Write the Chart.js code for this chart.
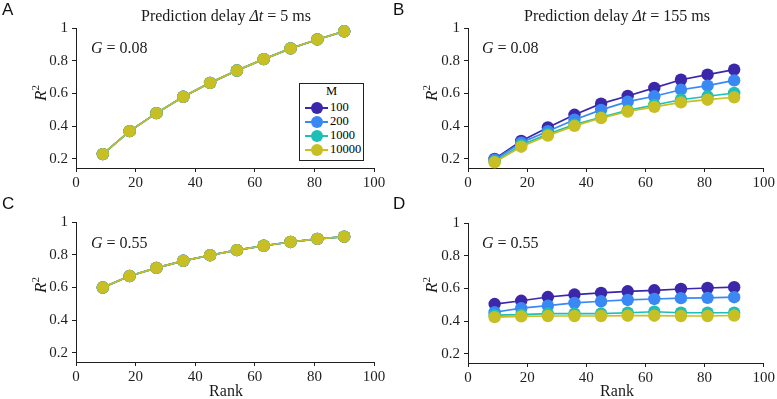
<!DOCTYPE html>
<html>
<head>
<meta charset="utf-8">
<script src="https://cdn.jsdelivr.net/npm/chart.js@4.4.1/dist/chart.umd.min.js"></script>
<style>
  html, body { margin: 0; padding: 0; background: #fff; }
  #wrap { position: relative; width: 777px; height: 399px; overflow: hidden; background: #fff; }
  canvas { position: absolute; }
  .t { position: absolute; font-family: "Liberation Serif", "DejaVu Serif", serif; color: #1a1a1a; white-space: nowrap; font-weight: 400; }
  .letter { position: absolute; font-family: "Liberation Sans", Arial, sans-serif; font-size: 17px; color: #111; }
  .ylab { position: absolute; font-family: "Liberation Serif", serif; font-size: 17px; color: #1a1a1a; transform: translate(-50%, -50%) rotate(-90deg); white-space: nowrap; }
  .legend { position: absolute; left: 299px; top: 83px; width: 63px; height: 76px; border: 1px solid #222; background: #fff; font-family: "Liberation Serif", serif; font-size: 12.5px; font-weight: 400; color: #000; }
  .legend .row { position: absolute; left: 0; height: 14px; width: 63px; }
  .legend .ln { position: absolute; left: 5px; top: 6px; width: 23px; height: 1.6px; }
  .legend .dot { position: absolute; left: 11px; top: 1px; width: 12px; height: 12px; border-radius: 50%; }
  .legend .lt { position: absolute; left: 30px; top: -1px; font-weight: 400; color: #000; }
</style>
</head>
<body>
<div id="wrap">
  <canvas id="cA"></canvas>
  <canvas id="cB"></canvas>
  <canvas id="cC"></canvas>
  <canvas id="cD"></canvas>
</div>
<script>
// ---------- data ----------
const ranks = [9, 18, 27, 36, 45, 54, 63, 72, 81, 90];
const seriesNames = ['100', '200', '1000', '10000'];
const seriesColors = ['#3b27a9', '#3a88f3', '#1dbfb7', '#c7bf24'];
const yTicks = [0.2, 0.4, 0.6, 0.8, 1];
const xTicks = [0, 20, 40, 60, 80, 100];

// Panel A: delay 5 ms, G = 0.08
const A_M100   = [0.23, 0.37, 0.48, 0.58, 0.665, 0.74, 0.81, 0.875, 0.93, 0.98];
const A_M200   = [0.23, 0.37, 0.48, 0.58, 0.665, 0.74, 0.81, 0.875, 0.93, 0.98];
const A_M1000  = [0.23, 0.37, 0.48, 0.58, 0.665, 0.74, 0.81, 0.875, 0.93, 0.98];
const A_M10000 = [0.23, 0.37, 0.48, 0.58, 0.665, 0.74, 0.81, 0.875, 0.93, 0.98];

// Panel B: delay 155 ms, G = 0.08
const B_M100   = [0.20, 0.31, 0.393, 0.47, 0.538, 0.585, 0.634, 0.684, 0.715, 0.746];
const B_M200   = [0.195, 0.30, 0.37, 0.44, 0.50, 0.55, 0.583, 0.623, 0.648, 0.68];
const B_M1000  = [0.185, 0.285, 0.352, 0.41, 0.455, 0.497, 0.53, 0.562, 0.583, 0.603];
const B_M10000 = [0.18, 0.275, 0.343, 0.402, 0.45, 0.49, 0.518, 0.546, 0.562, 0.577];

// Panel C: delay 5 ms, G = 0.55
const C_M100   = [0.60, 0.67, 0.72, 0.763, 0.797, 0.828, 0.855, 0.878, 0.897, 0.91];
const C_M200   = [0.60, 0.67, 0.72, 0.763, 0.797, 0.828, 0.855, 0.878, 0.897, 0.91];
const C_M1000  = [0.60, 0.67, 0.72, 0.763, 0.797, 0.828, 0.855, 0.878, 0.897, 0.91];
const C_M10000 = [0.60, 0.67, 0.72, 0.763, 0.797, 0.828, 0.855, 0.878, 0.897, 0.91];

// Panel D: delay 155 ms, G = 0.55
const D_M100   = [0.505, 0.525, 0.548, 0.563, 0.573, 0.583, 0.589, 0.597, 0.603, 0.608];
const D_M200   = [0.455, 0.48, 0.495, 0.512, 0.522, 0.53, 0.536, 0.541, 0.543, 0.547];
const D_M1000  = [0.437, 0.44, 0.447, 0.447, 0.447, 0.452, 0.458, 0.452, 0.452, 0.452];
const D_M10000 = [0.425, 0.43, 0.432, 0.432, 0.432, 0.434, 0.434, 0.432, 0.432, 0.435];

const panelTitles = ['Prediction delay <i>Δt</i> = 5 ms', 'Prediction delay <i>Δt</i> = 155 ms'];
const gLabels = ['0.08', '0.08', '0.55', '0.55'];
const panelLetters = ['A', 'B', 'C', 'D'];

// ---------- layout ----------
const panels = [
  { id: 'cA', data: [A_M100, A_M200, A_M1000, A_M10000], left: 0,   top: 0,   w: 388, h: 196, area: { l: 76, r: 374, t: 28, b: 168 } },
  { id: 'cB', data: [B_M100, B_M200, B_M1000, B_M10000], left: 390, top: 0,   w: 387, h: 196, area: { l: 468, r: 766, t: 28, b: 168 } },
  { id: 'cC', data: [C_M100, C_M200, C_M1000, C_M10000], left: 0,   top: 196, w: 388, h: 203, area: { l: 76, r: 374, t: 222, b: 362 } },
  { id: 'cD', data: [D_M100, D_M200, D_M1000, D_M10000], left: 390, top: 196, w: 387, h: 203, area: { l: 468, r: 766, t: 223, b: 363 } }
];

const FONT = '"Liberation Serif", "DejaVu Serif", serif';
const INK = '#1f1f1f';

panels.forEach((p, pi) => {
  const cv = document.getElementById(p.id);
  cv.style.left = p.left + 'px';
  cv.style.top = p.top + 'px';
  cv.style.width = p.w + 'px';
  cv.style.height = p.h + 'px';
  cv.width = p.w; cv.height = p.h;

  const yAxisW = p.area.l - p.left;
  const padRight = (p.left + p.w) - p.area.r;
  const padTop = p.area.t - p.top;
  const xAxisH = (p.top + p.h) - p.area.b;

  const datasets = seriesNames.map((name, si) => ({
    label: name,
    data: ranks.map((r, k) => ({ x: r, y: p.data[si][k] })),
    borderColor: seriesColors[si],
    backgroundColor: seriesColors[si],
    pointBackgroundColor: seriesColors[si],
    pointBorderWidth: 0,
    pointRadius: 6.2,
    borderWidth: 1.7,
    tension: 0,
    clip: false,
    order: 4 - si
  }));

  new Chart(cv, {
    type: 'line',
    data: { datasets },
    options: {
      responsive: false,
      animation: false,
      devicePixelRatio: 1,
      layout: { padding: { left: 0, right: padRight, top: padTop, bottom: 0 } },
      plugins: { legend: { display: false }, tooltip: { enabled: false } },
      scales: {
        x: {
          type: 'linear', min: 0, max: 100,
          afterFit: s => { s.height = xAxisH; },
          afterBuildTicks: s => { s.ticks = xTicks.map(v => ({ value: v })); },
          grid: { drawOnChartArea: false, drawTicks: true, tickLength: 4, color: INK, lineWidth: 1 },
          border: { display: true, color: INK, width: 1 },
          ticks: { color: INK, font: { family: FONT, size: 15 }, padding: 2, maxRotation: 0 }
        },
        y: {
          type: 'linear', min: 0.145, max: 1,
          afterFit: s => { s.width = yAxisW; },
          afterBuildTicks: s => { s.ticks = yTicks.map(v => ({ value: v })); },
          grid: { drawOnChartArea: false, drawTicks: true, tickLength: 4, color: INK, lineWidth: 1 },
          border: { display: true, color: INK, width: 1 },
          ticks: { color: INK, font: { family: FONT, size: 15 }, padding: 4,
                   callback: v => (v === 1 ? '1' : v.toFixed(1)) }
        }
      }
    }
  });
});

// ---------- text overlays ----------
const wrap = document.getElementById('wrap');
function addDiv(cls, html, style) {
  const d = document.createElement('div');
  d.className = cls;
  d.innerHTML = html;
  Object.assign(d.style, style);
  wrap.appendChild(d);
  return d;
}

// panel titles
[{ cx: 226, cy: 16 }, { cx: 617, cy: 16 }].forEach((pos, i) => {
  addDiv('t', panelTitles[i], { left: pos.cx + 'px', top: pos.cy + 'px', fontSize: '16px', transform: 'translate(-50%,-50%)' });
});

// panel letters
[{ x: 2, y: 0 }, { x: 393, y: 0 }, { x: 2, y: 194 }, { x: 393, y: 194 }].forEach((pos, i) => {
  addDiv('letter', panelLetters[i], { left: pos.x + 'px', top: pos.y + 'px' });
});

// G labels
[{ x: 91, cy: 48 }, { x: 482, cy: 48 }, { x: 91, cy: 243 }, { x: 482, cy: 243 }].forEach((pos, i) => {
  addDiv('t', '<i>G</i> = ' + gLabels[i], { left: pos.x + 'px', top: pos.cy + 'px', fontSize: '16px', transform: 'translateY(-50%)' });
});

// R^2 labels
[{ cx: 40, cy: 93 }, { cx: 431, cy: 93 }, { cx: 40, cy: 285 }, { cx: 431, cy: 285 }].forEach(pos => {
  addDiv('ylab', '<i>R</i><sup style="font-size:11px">2</sup>', { left: pos.cx + 'px', top: pos.cy + 'px' });
});

// Rank labels
[{ cx: 226, cy: 391 }, { cx: 617, cy: 391 }].forEach(pos => {
  addDiv('t', 'Rank', { left: pos.cx + 'px', top: pos.cy + 'px', fontSize: '16px', transform: 'translate(-50%,-50%)' });
});

// legend (panel A)
const lg = addDiv('legend', '', {});
const lt = document.createElement('div');
lt.style.cssText = 'position:absolute;left:0;width:63px;top:0px;text-align:center;color:#000;font-weight:400;';
lt.textContent = 'M';
lg.appendChild(lt);
seriesNames.forEach((name, si) => {
  const row = document.createElement('div');
  row.className = 'row';
  row.style.top = (17 + si * 14) + 'px';
  row.innerHTML = '<div class="ln" style="background:' + seriesColors[si] + '"></div>' +
                  '<div class="dot" style="background:' + seriesColors[si] + '"></div>' +
                  '<div class="lt">' + name + '</div>';
  lg.appendChild(row);
});
</script>
</body>
</html>
